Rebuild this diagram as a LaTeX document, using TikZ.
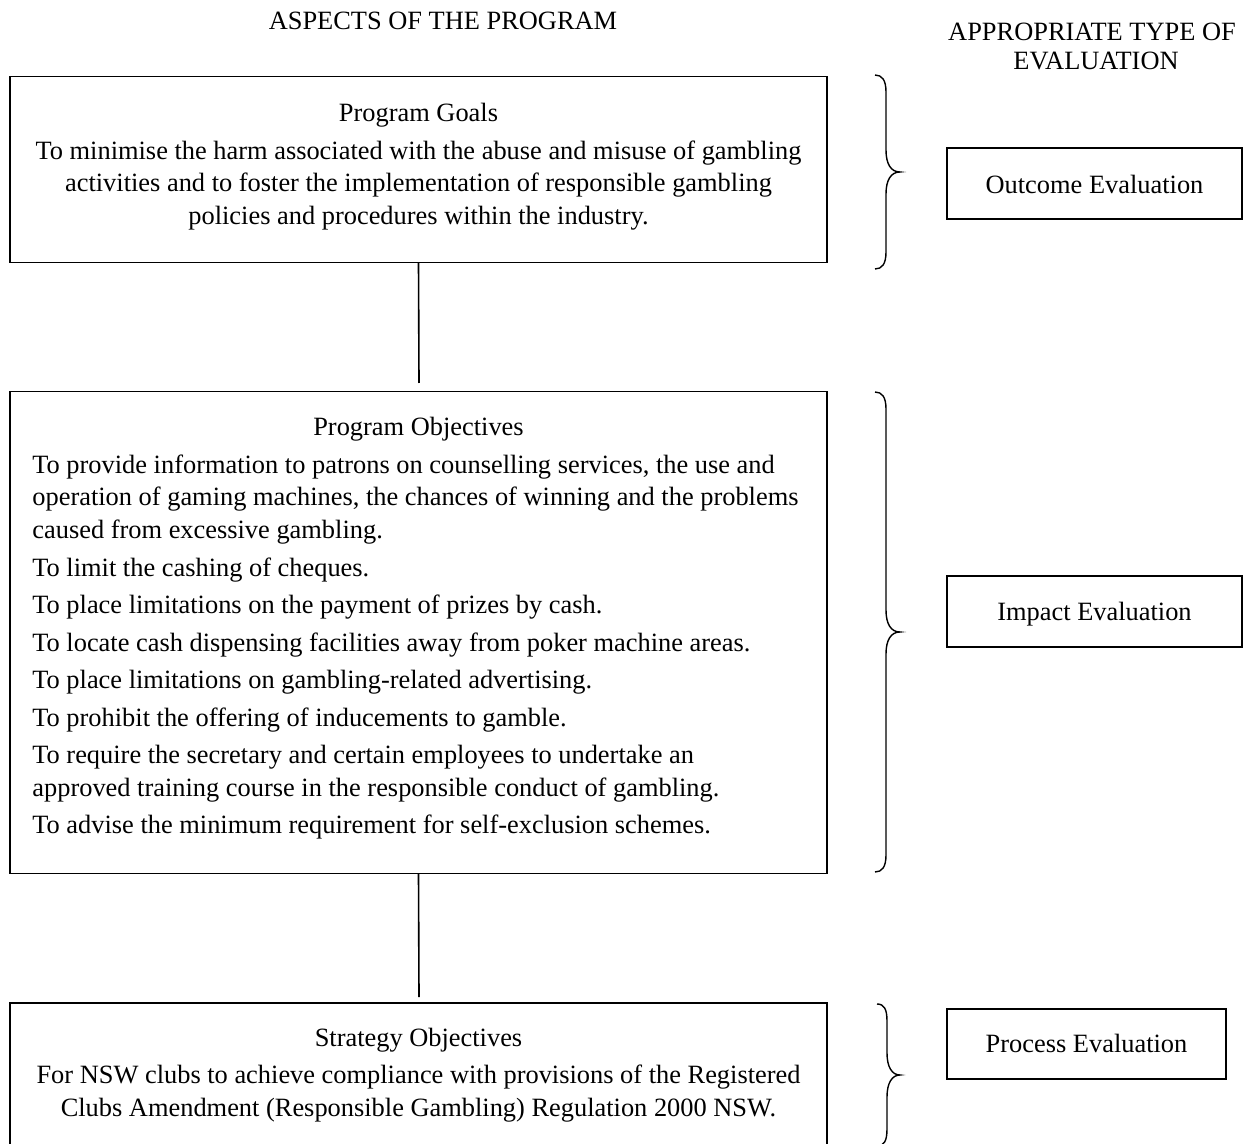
\documentclass[tikz,border=0pt]{standalone}
\usepackage{fontspec}
\setmainfont{Liberation Serif}
\begin{document}
\begin{tikzpicture}[x=0.5pt,y=-0.5pt,
  box/.style={draw,line width=0.8pt,inner sep=0pt,outer sep=0pt},
  txt/.style={inner sep=0pt,font=\fontsize{13.2}{16}\selectfont},
  ctr/.style={txt,anchor=base},
  lft/.style={txt,anchor=base west},
  conn/.style={line width=0.8pt},
  curly/.style={line width=0.7pt}]
\useasboundingbox (0,0) rectangle (1243,1144);
\clip (0,0) rectangle (1243,1144);

% headings
\node[ctr] (h1) at (443,30) {ASPECTS OF THE PROGRAM};
\node[ctr] (h2a) at (1092,41) {APPROPRIATE TYPE OF};
\node[ctr] (h2b) at (1096,70) {EVALUATION};

% program boxes
\node[box,minimum width=408.5pt,minimum height=93pt] (goals) at (418.5,169.5) {};
\node[box,minimum width=408.5pt,minimum height=241pt] (obj) at (418.5,632.5) {};
\node[box,minimum width=408.5pt,minimum height=85pt] (strat) at (418.5,1088) {};

% evaluation boxes
\node[box,minimum width=147.5pt,minimum height=35.5pt] (outcome) at (1094.5,183.5) {};
\node[box,minimum width=147.5pt,minimum height=35.5pt] (impact) at (1094.5,611.5) {};
\node[box,minimum width=139.5pt,minimum height=35pt] (process) at (1086.5,1044) {};

% connectors
\coordinate (c1) at (419,383);
\coordinate (c2) at (419,997);
\draw[conn] (goals.south) -- (c1);
\draw[conn] (obj.south) -- (c2);

% braces
\draw[curly] (875,75) .. controls (882,75) and (886,80) .. (886,92)
  -- (886,150) .. controls (886,164) and (891,172) .. (900,172)
  .. controls (891,172) and (886,180) .. (886,194)
  -- (886,252) .. controls (886,264) and (882,269) .. (875,269);
\draw[curly] (875,392) .. controls (882,392) and (886,397) .. (886,409)
  -- (886,610) .. controls (886,624) and (891,632) .. (900,632)
  .. controls (891,632) and (886,640) .. (886,654)
  -- (886,855) .. controls (886,867) and (882,872) .. (875,872);
\draw[curly] (877,1004) .. controls (884,1004) and (887,1009) .. (887,1021)
  -- (887,1053) .. controls (887,1067) and (892,1075) .. (900,1075)
  .. controls (892,1075) and (887,1083) .. (887,1097)
  -- (887,1129) .. controls (887,1141) and (884,1146) .. (877,1146);

% evaluation labels
\node[ctr] (t-out) at (outcome.center |- 0,194) {Outcome Evaluation};
\node[ctr] (t-imp) at (impact.center |- 0,620) {Impact Evaluation};
\node[ctr] (t-pro) at (process.center |- 0,1052) {Process Evaluation};

% goals text
\node[ctr] (g0) at (418.5,122) {Program Goals};
\node[ctr] (g1) at (418.5,159.5) {To minimise the harm associated with the abuse and misuse of gambling};
\node[ctr] (g2) at (418.5,192) {activities and to foster the implementation of responsible gambling};
\node[ctr] (g3) at (418.5,224.5) {policies and procedures within the industry.};

% objectives text
\node[ctr] (o0) at (418.5,436) {Program Objectives};
\node[lft] (o1) at (32,473.5) {To provide information to patrons on counselling services, the use and};
\node[lft] (o2) at (32,506) {operation of gaming machines, the chances of winning and the problems};
\node[lft] (o3) at (32,538.5) {caused from excessive gambling.};
\node[lft] (o4) at (32,576) {To limit the cashing of cheques.};
\node[lft] (o5) at (32,613.5) {To place limitations on the payment of prizes by cash.};
\node[lft] (o6) at (32,651) {To locate cash dispensing facilities away from poker machine areas.};
\node[lft] (o7) at (32,688.5) {To place limitations on gambling-related advertising.};
\node[lft] (o8) at (32,726) {To prohibit the offering of inducements to gamble.};
\node[lft] (o9) at (32,763.5) {To require the secretary and certain employees to undertake an};
\node[lft] (o10) at (32,796) {approved training course in the responsible conduct of gambling.};
\node[lft] (o11) at (32,833.5) {To advise the minimum requirement for self-exclusion schemes.};

% strategy text
\node[ctr] (s0) at (418.5,1046) {Strategy Objectives};
\node[ctr] (s1) at (418.5,1083.5) {For NSW clubs to achieve compliance with provisions of the Registered};
\node[ctr] (s2) at (418.5,1116) {Clubs Amendment (Responsible Gambling) Regulation 2000 NSW.};
\end{tikzpicture}
\end{document}
